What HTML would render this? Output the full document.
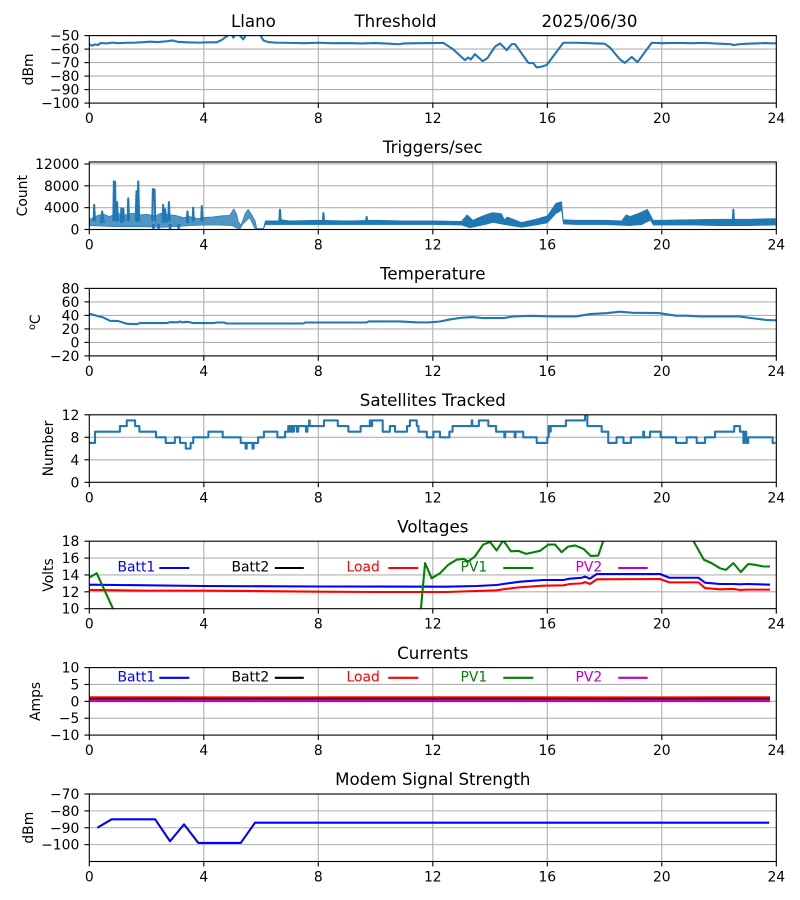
<!DOCTYPE html>
<html><head><meta charset="utf-8"><style>
html,body{margin:0;padding:0;background:#fff}
svg{display:block}
text{font-family:"DejaVu Sans","Liberation Sans",sans-serif;fill:#000}
.t{font-size:13.9px}
.ti{font-size:16.67px}
.g{stroke:#b0b0b0;stroke-width:1.11}
.k{stroke:#000;stroke-width:1.11}
.sp{fill:none;stroke:#000;stroke-width:1.11}
.d{fill:none;stroke-width:2.08;stroke-linejoin:round;vector-effect:non-scaling-stroke}
</style></head><body>
<svg width="800" height="900" viewBox="0 0 800 900" xmlns="http://www.w3.org/2000/svg">
<rect width="800" height="900" fill="#fff"/>
<defs>
<clipPath id="c1"><rect x="89.3" y="35.6" width="687" height="67.5"/></clipPath>
<clipPath id="c2"><rect x="89.3" y="162" width="687" height="67.5"/></clipPath>
<clipPath id="c3"><rect x="89.3" y="288.4" width="687" height="67.5"/></clipPath>
<clipPath id="c4"><rect x="89.3" y="414.8" width="687" height="67.5"/></clipPath>
<clipPath id="c5"><rect x="89.3" y="541.2" width="687" height="67.5"/></clipPath>
<clipPath id="c6"><rect x="89.3" y="667.6" width="687" height="67.5"/></clipPath>
<clipPath id="c7"><rect x="89.3" y="794" width="687" height="67.5"/></clipPath>
</defs>

<!-- ============ AXIS 1: Threshold ============ -->
<g class="g">
<line x1="203.8" y1="35.6" x2="203.8" y2="103.1"/><line x1="318.3" y1="35.6" x2="318.3" y2="103.1"/><line x1="432.8" y1="35.6" x2="432.8" y2="103.1"/><line x1="547.3" y1="35.6" x2="547.3" y2="103.1"/><line x1="661.8" y1="35.6" x2="661.8" y2="103.1"/>
<line x1="89.3" y1="49.1" x2="776.3" y2="49.1"/><line x1="89.3" y1="62.6" x2="776.3" y2="62.6"/><line x1="89.3" y1="76.1" x2="776.3" y2="76.1"/><line x1="89.3" y1="89.6" x2="776.3" y2="89.6"/>
</g>
<g clip-path="url(#c1)"><g transform="translate(89.3,103.1) scale(28.625,-1.35) translate(0,100)">
<polyline class="d" stroke="#1f77b4" points="0,-56.5 0.1,-57.5 0.2,-56.5 0.3,-57 0.4,-55.5 0.6,-55.8 0.8,-55.2 1.0,-55.6 1.3,-55.3 1.54,-55.3 1.8,-55 2.1,-54.5 2.4,-54.8 2.7,-54.2 2.93,-53.6 3.0,-54.2 3.1,-54.6 3.4,-55.0 3.8,-55.2 4.2,-55.0 4.45,-55.0 4.62,-53.3 4.8,-50.5 4.9,-49 4.97,-48 5.03,-51.5 5.12,-48.5 5.2,-48.5 5.38,-52.8 5.5,-48.5 5.9,-48 5.96,-49 6.08,-53.5 6.25,-54.8 6.5,-55.2 7,-55.4 7.5,-55.6 8,-55.3 8.5,-55.6 9,-55.5 9.5,-55.8 10,-55.5 10.5,-56 10.8,-56.4 11,-55.8 11.5,-55.6 12,-55.5 12.37,-55.4 12.72,-60.3 13.12,-68.2 13.24,-66.2 13.33,-67.7 13.47,-63.7 13.74,-68.9 13.9,-66.9 14.17,-58.3 14.35,-55.8 14.58,-60.8 14.76,-56.3 14.87,-56.3 15.34,-70.2 15.51,-70.4 15.63,-73.6 15.8,-73 15.98,-71.8 16.56,-55.3 17.0,-55.3 17.38,-55.5 17.7,-55.8 18.0,-56 18.19,-58.8 18.54,-67.7 18.71,-70.2 18.95,-65.8 19.15,-69.7 19.65,-55.3 20,-55.6 20.5,-55.4 21,-55.6 21.5,-55.4 22,-56 22.4,-56.3 22.5,-57 22.7,-56.4 23,-56 23.3,-55.8 23.6,-55.5 23.9,-55.8 24,-55.6"/>
</g></g>
<rect class="sp" x="89.3" y="35.6" width="687" height="67.5"/>
<g class="k">
<line x1="89.3" y1="103.1" x2="89.3" y2="108"/><line x1="203.8" y1="103.1" x2="203.8" y2="108"/><line x1="318.3" y1="103.1" x2="318.3" y2="108"/><line x1="432.8" y1="103.1" x2="432.8" y2="108"/><line x1="547.3" y1="103.1" x2="547.3" y2="108"/><line x1="661.8" y1="103.1" x2="661.8" y2="108"/><line x1="776.3" y1="103.1" x2="776.3" y2="108"/>
<line x1="84.4" y1="35.6" x2="89.3" y2="35.6"/><line x1="84.4" y1="49.1" x2="89.3" y2="49.1"/><line x1="84.4" y1="62.6" x2="89.3" y2="62.6"/><line x1="84.4" y1="76.1" x2="89.3" y2="76.1"/><line x1="84.4" y1="89.6" x2="89.3" y2="89.6"/><line x1="84.4" y1="103.1" x2="89.3" y2="103.1"/>
</g>
<g class="t" text-anchor="middle">
<text x="89.3" y="123.1">0</text><text x="203.8" y="123.1">4</text><text x="318.3" y="123.1">8</text><text x="432.8" y="123.1">12</text><text x="547.3" y="123.1">16</text><text x="661.8" y="123.1">20</text><text x="776.3" y="123.1">24</text>
</g>
<g class="t" text-anchor="end">
<text x="79.3" y="40.6">−50</text><text x="79.3" y="54.1">−60</text><text x="79.3" y="67.6">−70</text><text x="79.3" y="81.1">−80</text><text x="79.3" y="94.6">−90</text><text x="79.3" y="108.1">−100</text>
</g>
<text class="t" text-anchor="middle" transform="translate(33,69.4) rotate(-90)">dBm</text>
<g class="ti"><text x="231" y="26.8">Llano</text><text x="354.5" y="26.8">Threshold</text><text x="541.5" y="26.8">2025/06/30</text></g>

<!-- ============ AXIS 2: Triggers ============ -->
<g class="g">
<line x1="203.8" y1="162" x2="203.8" y2="229.5"/><line x1="318.3" y1="162" x2="318.3" y2="229.5"/><line x1="432.8" y1="162" x2="432.8" y2="229.5"/><line x1="547.3" y1="162" x2="547.3" y2="229.5"/><line x1="661.8" y1="162" x2="661.8" y2="229.5"/>
<line x1="89.3" y1="207.66" x2="776.3" y2="207.66"/><line x1="89.3" y1="185.82" x2="776.3" y2="185.82"/><line x1="89.3" y1="163.98" x2="776.3" y2="163.98"/>
</g>
<g clip-path="url(#c2)"><g transform="translate(89.3,229.5) scale(28.625,-0.005461)">
<polygon fill="#1f77b4" fill-opacity="0.78" stroke="#1f77b4" stroke-width="0.6" vector-effect="non-scaling-stroke" stroke-linejoin="round" points="0,1900 0.17,2200 0.3,2600 0.5,2800 0.7,2400 1.0,3000 1.2,2600 1.5,3000 1.8,2700 2.0,2800 2.3,2500 2.5,3000 2.8,2700 3.0,2600 3.3,2200 3.5,2400 3.8,2000 4.0,2200 4.3,2300 4.6,2500 4.9,2600 5.05,3800 5.15,2800 5.2,1500 5.3,800 5.45,3000 5.55,3700 5.7,2500 5.8,1500 5.85,200 6.08,200 6.15,1600 6.15,900 6.08,0 5.8,0 5.6,2200 5.35,900 5.25,0 5.0,700 4.5,800 4,800 3.5,700 3,500 2.5,400 2,500 1.5,500 1,500 0.5,600 0,700"/>
<polygon fill="#1f77b4" stroke="#1f77b4" stroke-width="0.6" vector-effect="non-scaling-stroke" stroke-linejoin="round" points="6.15,1600 6.6,1600 6.7,1800 7,1600 8,1700 9,1600 10,1700 11,1600 12,1600 13.0,1500 13.2,2700 13.3,2200 13.4,1700 13.6,2200 13.9,2800 14.1,3100 14.4,2900 14.5,1800 14.6,2300 15.1,1300 15.6,1900 16.0,2500 16.3,4800 16.5,5100 16.56,1800 17,1700 18,1700 18.6,1600 18.75,2700 18.9,2400 19.2,3000 19.5,3700 19.7,1700 20,1700 21,1800 22,1900 23,1900 23.97,2000 23.97,800 23,700 22,700 21,800 20,800 19.7,800 19.6,1700 19.3,900 18.9,700 18,900 17,900 16.56,1000 16.5,3500 16.3,2900 16.0,1200 15.6,800 15.1,400 14.5,900 14.1,1300 13.9,1000 13.3,300 13,800 12,900 11,900 10,900 9,900 8,900 7,900 6.15,900"/>
<path class="d" stroke="#1f77b4" d="M0.15,1500 L0.17,4500 L0.2,1500 M0.84,1500 L0.86,8800 L0.9,8700 L0.92,1500 M0.95,1500 L0.97,5000 L1.0,1500 M1.17,1500 L1.19,3800 L1.21,1500 M1.34,1500 L1.36,5700 L1.39,1500 M1.62,1500 L1.65,7000 L1.68,1500 L1.71,8800 L1.74,1500 M2.2,1500 L2.22,7400 L2.28,7300 L2.3,1500 M2.56,1500 L2.58,4500 L2.6,1500 M2.76,1500 L2.78,5000 L2.81,1500 M3.61,1500 L3.63,4000 L3.65,1500 M3.91,1500 L3.93,4300 L3.95,1500 M6.64,1300 L6.66,3600 L6.69,1300 M8.16,1300 L8.18,3000 L8.2,1300 M9.67,1300 L9.69,2300 L9.71,1300 M22.48,1300 L22.5,3600 L22.52,1300 M2.22,1000 L2.24,0 L2.27,1000 M2.4,1000 L2.42,0 L2.45,1000 M2.8,1000 L2.82,0 L2.85,1000 M3.1,1000 L3.12,0 L3.15,1000 M0.4,1200 L0.45,3300 L0.5,1200 M1.1,1200 L1.12,3900 L1.15,1200 M2.6,1200 L2.65,3700 L2.7,1200 M3.4,1200 L3.43,3300 L3.46,1200"/>
</g></g>
<rect class="sp" x="89.3" y="162" width="687" height="67.5"/>
<g class="k">
<line x1="89.3" y1="229.5" x2="89.3" y2="234.4"/><line x1="203.8" y1="229.5" x2="203.8" y2="234.4"/><line x1="318.3" y1="229.5" x2="318.3" y2="234.4"/><line x1="432.8" y1="229.5" x2="432.8" y2="234.4"/><line x1="547.3" y1="229.5" x2="547.3" y2="234.4"/><line x1="661.8" y1="229.5" x2="661.8" y2="234.4"/><line x1="776.3" y1="229.5" x2="776.3" y2="234.4"/>
<line x1="84.4" y1="229.5" x2="89.3" y2="229.5"/><line x1="84.4" y1="207.66" x2="89.3" y2="207.66"/><line x1="84.4" y1="185.82" x2="89.3" y2="185.82"/><line x1="84.4" y1="163.98" x2="89.3" y2="163.98"/>
</g>
<g class="t" text-anchor="middle">
<text x="89.3" y="249.5">0</text><text x="203.8" y="249.5">4</text><text x="318.3" y="249.5">8</text><text x="432.8" y="249.5">12</text><text x="547.3" y="249.5">16</text><text x="661.8" y="249.5">20</text><text x="776.3" y="249.5">24</text>
</g>
<g class="t" text-anchor="end">
<text x="79.3" y="234.5">0</text><text x="79.3" y="212.66">4000</text><text x="79.3" y="190.82">8000</text><text x="79.3" y="168.98">12000</text>
</g>
<text class="t" text-anchor="middle" transform="translate(27,195.7) rotate(-90)">Count</text>
<text class="ti" x="432.8" y="153.2" text-anchor="middle">Triggers/sec</text>

<!-- ============ AXIS 3: Temperature ============ -->
<g class="g">
<line x1="203.8" y1="288.4" x2="203.8" y2="355.9"/><line x1="318.3" y1="288.4" x2="318.3" y2="355.9"/><line x1="432.8" y1="288.4" x2="432.8" y2="355.9"/><line x1="547.3" y1="288.4" x2="547.3" y2="355.9"/><line x1="661.8" y1="288.4" x2="661.8" y2="355.9"/>
<line x1="89.3" y1="342.4" x2="776.3" y2="342.4"/><line x1="89.3" y1="328.9" x2="776.3" y2="328.9"/><line x1="89.3" y1="315.4" x2="776.3" y2="315.4"/><line x1="89.3" y1="301.9" x2="776.3" y2="301.9"/>
</g>
<g clip-path="url(#c3)"><g transform="translate(89.3,355.9) scale(28.625,-0.675) translate(0,20)">
<polyline class="d" stroke="#1f77b4" points="0,42.4 0.26,39.4 0.45,37.5 0.61,34.5 0.72,32 1.01,31.6 1.31,27.6 1.66,27.2 1.77,28.6 2.7,28.6 2.82,30 3.1,29.8 3.15,31 3.25,29.8 3.4,30.5 3.5,30 3.63,28.6 4.33,28.6 4.45,29.5 4.7,29.5 4.8,28 7.48,28 7.54,29.5 9.69,29.5 9.75,31 10.85,31 11.5,29.6 11.9,29.8 12.25,31 12.6,34 13.0,36.5 13.4,37.5 13.76,36 14.46,36 14.8,38.4 15.4,39.4 16.1,38.5 17.0,38.5 17.5,42 18.1,43.5 18.54,45.5 19.0,43.8 19.9,43.5 20.17,41.6 20.5,39.6 20.87,39.6 21.33,38.5 22.7,38.5 23.2,35.6 23.66,33.2 24,32.7"/>
</g></g>
<rect class="sp" x="89.3" y="288.4" width="687" height="67.5"/>
<g class="k">
<line x1="89.3" y1="355.9" x2="89.3" y2="360.8"/><line x1="203.8" y1="355.9" x2="203.8" y2="360.8"/><line x1="318.3" y1="355.9" x2="318.3" y2="360.8"/><line x1="432.8" y1="355.9" x2="432.8" y2="360.8"/><line x1="547.3" y1="355.9" x2="547.3" y2="360.8"/><line x1="661.8" y1="355.9" x2="661.8" y2="360.8"/><line x1="776.3" y1="355.9" x2="776.3" y2="360.8"/>
<line x1="84.4" y1="355.9" x2="89.3" y2="355.9"/><line x1="84.4" y1="342.4" x2="89.3" y2="342.4"/><line x1="84.4" y1="328.9" x2="89.3" y2="328.9"/><line x1="84.4" y1="315.4" x2="89.3" y2="315.4"/><line x1="84.4" y1="301.9" x2="89.3" y2="301.9"/><line x1="84.4" y1="288.4" x2="89.3" y2="288.4"/>
</g>
<g class="t" text-anchor="middle">
<text x="89.3" y="375.9">0</text><text x="203.8" y="375.9">4</text><text x="318.3" y="375.9">8</text><text x="432.8" y="375.9">12</text><text x="547.3" y="375.9">16</text><text x="661.8" y="375.9">20</text><text x="776.3" y="375.9">24</text>
</g>
<g class="t" text-anchor="end">
<text x="79.3" y="360.9">−20</text><text x="79.3" y="347.4">0</text><text x="79.3" y="333.9">20</text><text x="79.3" y="320.4">40</text><text x="79.3" y="306.9">60</text><text x="79.3" y="293.4">80</text>
</g>
<text class="t" text-anchor="middle" transform="translate(40,322.2) rotate(-90)"><tspan font-size="9.7px" dy="-5">o</tspan><tspan dy="5">C</tspan></text>
<text class="ti" x="432.8" y="279.6" text-anchor="middle">Temperature</text>

<!-- ============ AXIS 4: Satellites ============ -->
<g class="g">
<line x1="203.8" y1="414.8" x2="203.8" y2="482.3"/><line x1="318.3" y1="414.8" x2="318.3" y2="482.3"/><line x1="432.8" y1="414.8" x2="432.8" y2="482.3"/><line x1="547.3" y1="414.8" x2="547.3" y2="482.3"/><line x1="661.8" y1="414.8" x2="661.8" y2="482.3"/>
<line x1="89.3" y1="459.8" x2="776.3" y2="459.8"/><line x1="89.3" y1="437.3" x2="776.3" y2="437.3"/>
</g>
<g clip-path="url(#c4)"><g transform="translate(89.3,482.3) scale(28.625,-5.625)">
<path class="d" stroke="#1f77b4" d="M0,7 H0.2 V9 H1.07 V10 H1.31 V11 H1.6 V10 H1.75 V9 H2.33 V8 H2.67 V7 H2.99 V8 H3.17 V7 H3.37 V6 H3.54 V7 H3.63 V8 H4.16 V9 H4.66 V8 H5.29 V7 H5.46 V6 H5.5 V7 H5.7 V6 H5.74 V7 H5.9 V8 H6.1 V9 H6.57 V8 H6.84 V9 H6.95 V10 H7.0 V9 H7.05 V10 H7.1 V9 H7.15 V10 H7.25 V9 H7.3 V10 H7.57 V9 H7.62 V10 H7.68 V11 H7.7 V10 H8.2 V11 H8.68 V10 H9.05 V9 H9.48 V10 H9.8 V11 H9.83 V10 H9.88 V11 H10.25 V9 H10.5 V10 H10.68 V9 H11.1 V10 H11.2 V11 H11.44 V10 H11.5 V9 H11.79 V8 H12.02 V9 H12.25 V8 H12.58 V9 H12.69 V10 H13.36 V11 H13.38 V10 H13.61 V11 H13.94 V10 H14.21 V9 H14.5 V8 H14.53 V9 H14.86 V8 H14.89 V9 H15.16 V8 H15.63 V7 H16.0 V8 H16.05 V10 H16.08 V9 H16.12 V10 H16.65 V11 H17.32 V12.5 H17.4 V10 H17.9 V9 H18.13 V7 H18.42 V8 H18.66 V7 H18.92 V8 H19.35 V9 H19.38 V8 H19.59 V9 H19.96 V8 H20.5 V7 H20.87 V8 H21.22 V7 H21.51 V8 H21.86 V9 H22.53 V10 H22.73 V9 H22.85 V7 H22.9 V9 H22.95 V7 H23.02 V8 H23.87 V7 H23.97"/>
</g></g>
<rect class="sp" x="89.3" y="414.8" width="687" height="67.5"/>
<g class="k">
<line x1="89.3" y1="482.3" x2="89.3" y2="487.2"/><line x1="203.8" y1="482.3" x2="203.8" y2="487.2"/><line x1="318.3" y1="482.3" x2="318.3" y2="487.2"/><line x1="432.8" y1="482.3" x2="432.8" y2="487.2"/><line x1="547.3" y1="482.3" x2="547.3" y2="487.2"/><line x1="661.8" y1="482.3" x2="661.8" y2="487.2"/><line x1="776.3" y1="482.3" x2="776.3" y2="487.2"/>
<line x1="84.4" y1="482.3" x2="89.3" y2="482.3"/><line x1="84.4" y1="459.8" x2="89.3" y2="459.8"/><line x1="84.4" y1="437.3" x2="89.3" y2="437.3"/><line x1="84.4" y1="414.8" x2="89.3" y2="414.8"/>
</g>
<g class="t" text-anchor="middle">
<text x="89.3" y="502.3">0</text><text x="203.8" y="502.3">4</text><text x="318.3" y="502.3">8</text><text x="432.8" y="502.3">12</text><text x="547.3" y="502.3">16</text><text x="661.8" y="502.3">20</text><text x="776.3" y="502.3">24</text>
</g>
<g class="t" text-anchor="end">
<text x="79.3" y="487.3">0</text><text x="79.3" y="464.8">4</text><text x="79.3" y="442.3">8</text><text x="79.3" y="419.8">12</text>
</g>
<text class="t" text-anchor="middle" transform="translate(53,448.5) rotate(-90)">Number</text>
<text class="ti" x="432.8" y="406" text-anchor="middle">Satellites Tracked</text>

<!-- ============ AXIS 5: Voltages ============ -->
<g class="g">
<line x1="203.8" y1="541.2" x2="203.8" y2="608.7"/><line x1="318.3" y1="541.2" x2="318.3" y2="608.7"/><line x1="432.8" y1="541.2" x2="432.8" y2="608.7"/><line x1="547.3" y1="541.2" x2="547.3" y2="608.7"/><line x1="661.8" y1="541.2" x2="661.8" y2="608.7"/>
<line x1="89.3" y1="591.825" x2="776.3" y2="591.825"/><line x1="89.3" y1="574.95" x2="776.3" y2="574.95"/><line x1="89.3" y1="558.075" x2="776.3" y2="558.075"/>
</g>
<g clip-path="url(#c5)"><g transform="translate(89.3,608.7) scale(28.625,-8.4375) translate(0,-10)">
<polyline class="d" stroke="#0000ff" points="0,12.85 4,12.69 8,12.63 12.49,12.61 13.53,12.69 14.23,12.81 14.46,12.93 15.05,13.2 15.86,13.4 16.56,13.4 16.79,13.56 17.2,13.67 17.32,13.8 17.49,13.56 17.73,14.11 19.94,14.11 20.26,13.67 21.28,13.67 21.51,13.08 22.03,12.93 22.5,12.93 22.73,12.89 22.97,12.93 23.78,12.85"/>
<polyline class="d" stroke="#ff0000" points="0,12.22 2,12.14 4,12.14 8,12.02 10,11.98 12.49,11.98 13.53,12.1 14.23,12.18 14.46,12.3 15.05,12.54 15.86,12.73 16.56,12.77 16.79,12.93 17.2,13.0 17.32,13.16 17.49,12.93 17.73,13.48 19.94,13.52 20.26,13.12 21.28,13.12 21.51,12.45 22.03,12.3 22.5,12.34 22.73,12.22 22.97,12.26 23.78,12.26"/>
<polyline class="d" stroke="#008000" points="0,13.7 0.26,14.2 1.1,8 11.45,5 11.58,9.8 11.73,15.4 11.96,13.6 12.25,14.2 12.54,15.2 12.83,15.8 13.07,15.9 13.24,15.6 13.47,16.2 13.76,17.6 14.0,17.9 14.23,16.9 14.46,18.1 14.73,16.8 14.99,16.85 15.26,16.5 15.74,16.85 16.04,17.6 16.27,17.6 16.5,16.7 16.73,17.36 16.97,17.5 17.26,17.1 17.52,16.25 17.78,16.3 17.96,18.1 18.2,20 20.8,20 21.1,18.05 21.47,15.8 21.74,15.4 22.03,14.8 22.24,14.6 22.5,15.4 22.76,14.35 23.02,15.3 23.26,15.2 23.55,15.0 23.78,15.0"/>
</g></g>
<rect class="sp" x="89.3" y="541.2" width="687" height="67.5"/>
<g class="t">
<text x="117.5" y="571.4" style="fill:#0000ff">Batt1</text>
<text x="231.5" y="571.4">Batt2</text>
<text x="346.5" y="571.4" style="fill:#ff0000">Load</text>
<text x="460.5" y="571.4" style="fill:#008000">PV1</text>
<text x="575.5" y="571.4" style="fill:#bf00bf">PV2</text>
</g>
<line x1="159.3" y1="568" x2="189.3" y2="568" stroke="#0000ff" stroke-width="2.08"/>
<line x1="274.8" y1="568" x2="303.8" y2="568" stroke="#000" stroke-width="2.08"/>
<line x1="388.3" y1="568" x2="418.3" y2="568" stroke="#ff0000" stroke-width="2.08"/>
<line x1="503.3" y1="568" x2="533.3" y2="568" stroke="#008000" stroke-width="2.08"/>
<line x1="618.3" y1="568" x2="647.7" y2="568" stroke="#bf00bf" stroke-width="2.08"/>
<g class="k">
<line x1="89.3" y1="608.7" x2="89.3" y2="613.6"/><line x1="203.8" y1="608.7" x2="203.8" y2="613.6"/><line x1="318.3" y1="608.7" x2="318.3" y2="613.6"/><line x1="432.8" y1="608.7" x2="432.8" y2="613.6"/><line x1="547.3" y1="608.7" x2="547.3" y2="613.6"/><line x1="661.8" y1="608.7" x2="661.8" y2="613.6"/><line x1="776.3" y1="608.7" x2="776.3" y2="613.6"/>
<line x1="84.4" y1="608.7" x2="89.3" y2="608.7"/><line x1="84.4" y1="591.825" x2="89.3" y2="591.825"/><line x1="84.4" y1="574.95" x2="89.3" y2="574.95"/><line x1="84.4" y1="558.075" x2="89.3" y2="558.075"/><line x1="84.4" y1="541.2" x2="89.3" y2="541.2"/>
</g>
<g class="t" text-anchor="middle">
<text x="89.3" y="628.7">0</text><text x="203.8" y="628.7">4</text><text x="318.3" y="628.7">8</text><text x="432.8" y="628.7">12</text><text x="547.3" y="628.7">16</text><text x="661.8" y="628.7">20</text><text x="776.3" y="628.7">24</text>
</g>
<g class="t" text-anchor="end">
<text x="79.3" y="613.7">10</text><text x="79.3" y="596.8">12</text><text x="79.3" y="579.95">14</text><text x="79.3" y="563.1">16</text><text x="79.3" y="546.2">18</text>
</g>
<text class="t" text-anchor="middle" transform="translate(53,575) rotate(-90)">Volts</text>
<text class="ti" x="432.8" y="532.4" text-anchor="middle">Voltages</text>

<!-- ============ AXIS 6: Currents ============ -->
<g class="g">
<line x1="203.8" y1="667.6" x2="203.8" y2="735.1"/><line x1="318.3" y1="667.6" x2="318.3" y2="735.1"/><line x1="432.8" y1="667.6" x2="432.8" y2="735.1"/><line x1="547.3" y1="667.6" x2="547.3" y2="735.1"/><line x1="661.8" y1="667.6" x2="661.8" y2="735.1"/>
<line x1="89.3" y1="718.225" x2="776.3" y2="718.225"/><line x1="89.3" y1="701.35" x2="776.3" y2="701.35"/><line x1="89.3" y1="684.475" x2="776.3" y2="684.475"/>
</g>
<g clip-path="url(#c6)"><g transform="translate(89.3,735.1) scale(28.625,-3.375) translate(0,10)">
<polyline class="d" stroke="#0000ff" points="0,1.0 23.78,1.0"/>
<polyline class="d" stroke="#000000" points="0,0.77 23.78,0.77"/>
<polyline class="d" stroke="#ff0000" points="0,1.2 6,1.18 12,1.2 18,1.17 23.78,1.2"/>
<polyline class="d" stroke="#008000" points="0,0.1 23.78,0.1"/>
<polyline class="d" stroke="#bf00bf" points="0,0.09 23.78,0.09"/>
</g></g>
<rect class="sp" x="89.3" y="667.6" width="687" height="67.5"/>
<g class="t">
<text x="117.5" y="681.6" style="fill:#0000ff">Batt1</text>
<text x="231.5" y="681.6">Batt2</text>
<text x="346.5" y="681.6" style="fill:#ff0000">Load</text>
<text x="460.5" y="681.6" style="fill:#008000">PV1</text>
<text x="575.5" y="681.6" style="fill:#bf00bf">PV2</text>
</g>
<line x1="159.3" y1="677.8" x2="189.3" y2="677.8" stroke="#0000ff" stroke-width="2.08"/>
<line x1="274.8" y1="677.8" x2="303.8" y2="677.8" stroke="#000" stroke-width="2.08"/>
<line x1="388.3" y1="677.8" x2="418.3" y2="677.8" stroke="#ff0000" stroke-width="2.08"/>
<line x1="503.3" y1="677.8" x2="533.3" y2="677.8" stroke="#008000" stroke-width="2.08"/>
<line x1="618.3" y1="677.8" x2="647.7" y2="677.8" stroke="#bf00bf" stroke-width="2.08"/>
<g class="k">
<line x1="89.3" y1="735.1" x2="89.3" y2="740"/><line x1="203.8" y1="735.1" x2="203.8" y2="740"/><line x1="318.3" y1="735.1" x2="318.3" y2="740"/><line x1="432.8" y1="735.1" x2="432.8" y2="740"/><line x1="547.3" y1="735.1" x2="547.3" y2="740"/><line x1="661.8" y1="735.1" x2="661.8" y2="740"/><line x1="776.3" y1="735.1" x2="776.3" y2="740"/>
<line x1="84.4" y1="735.1" x2="89.3" y2="735.1"/><line x1="84.4" y1="718.225" x2="89.3" y2="718.225"/><line x1="84.4" y1="701.35" x2="89.3" y2="701.35"/><line x1="84.4" y1="684.475" x2="89.3" y2="684.475"/><line x1="84.4" y1="667.6" x2="89.3" y2="667.6"/>
</g>
<g class="t" text-anchor="middle">
<text x="89.3" y="755.1">0</text><text x="203.8" y="755.1">4</text><text x="318.3" y="755.1">8</text><text x="432.8" y="755.1">12</text><text x="547.3" y="755.1">16</text><text x="661.8" y="755.1">20</text><text x="776.3" y="755.1">24</text>
</g>
<g class="t" text-anchor="end">
<text x="79.3" y="740.1">−10</text><text x="79.3" y="723.2">−5</text><text x="79.3" y="706.35">0</text><text x="79.3" y="689.5">5</text><text x="79.3" y="672.6">10</text>
</g>
<text class="t" text-anchor="middle" transform="translate(40,701.4) rotate(-90)">Amps</text>
<text class="ti" x="432.8" y="658.8" text-anchor="middle">Currents</text>

<!-- ============ AXIS 7: Modem ============ -->
<g class="g">
<line x1="203.8" y1="794" x2="203.8" y2="861.5"/><line x1="318.3" y1="794" x2="318.3" y2="861.5"/><line x1="432.8" y1="794" x2="432.8" y2="861.5"/><line x1="547.3" y1="794" x2="547.3" y2="861.5"/><line x1="661.8" y1="794" x2="661.8" y2="861.5"/>
<line x1="89.3" y1="810.875" x2="776.3" y2="810.875"/><line x1="89.3" y1="827.75" x2="776.3" y2="827.75"/><line x1="89.3" y1="844.625" x2="776.3" y2="844.625"/>
</g>
<g clip-path="url(#c7)"><g transform="translate(89.3,861.5) scale(28.625,-1.6875) translate(0,110)">
<polyline class="d" stroke="#0000ff" points="0.28,-90 0.78,-85 2.3,-85 2.82,-98 3.31,-88 3.81,-99 5.29,-99 5.79,-87 23.75,-87"/>
</g></g>
<rect class="sp" x="89.3" y="794" width="687" height="67.5"/>
<g class="k">
<line x1="89.3" y1="861.5" x2="89.3" y2="866.4"/><line x1="203.8" y1="861.5" x2="203.8" y2="866.4"/><line x1="318.3" y1="861.5" x2="318.3" y2="866.4"/><line x1="432.8" y1="861.5" x2="432.8" y2="866.4"/><line x1="547.3" y1="861.5" x2="547.3" y2="866.4"/><line x1="661.8" y1="861.5" x2="661.8" y2="866.4"/><line x1="776.3" y1="861.5" x2="776.3" y2="866.4"/>
<line x1="84.4" y1="794" x2="89.3" y2="794"/><line x1="84.4" y1="810.875" x2="89.3" y2="810.875"/><line x1="84.4" y1="827.75" x2="89.3" y2="827.75"/><line x1="84.4" y1="844.625" x2="89.3" y2="844.625"/>
</g>
<g class="t" text-anchor="middle">
<text x="89.3" y="881.5">0</text><text x="203.8" y="881.5">4</text><text x="318.3" y="881.5">8</text><text x="432.8" y="881.5">12</text><text x="547.3" y="881.5">16</text><text x="661.8" y="881.5">20</text><text x="776.3" y="881.5">24</text>
</g>
<g class="t" text-anchor="end">
<text x="79.3" y="799">−70</text><text x="79.3" y="815.9">−80</text><text x="79.3" y="832.75">−90</text><text x="79.3" y="849.6">−100</text>
</g>
<text class="t" text-anchor="middle" transform="translate(33,827.7) rotate(-90)">dBm</text>
<text class="ti" x="432.8" y="785.2" text-anchor="middle">Modem Signal Strength</text>
</svg>
</body></html>
